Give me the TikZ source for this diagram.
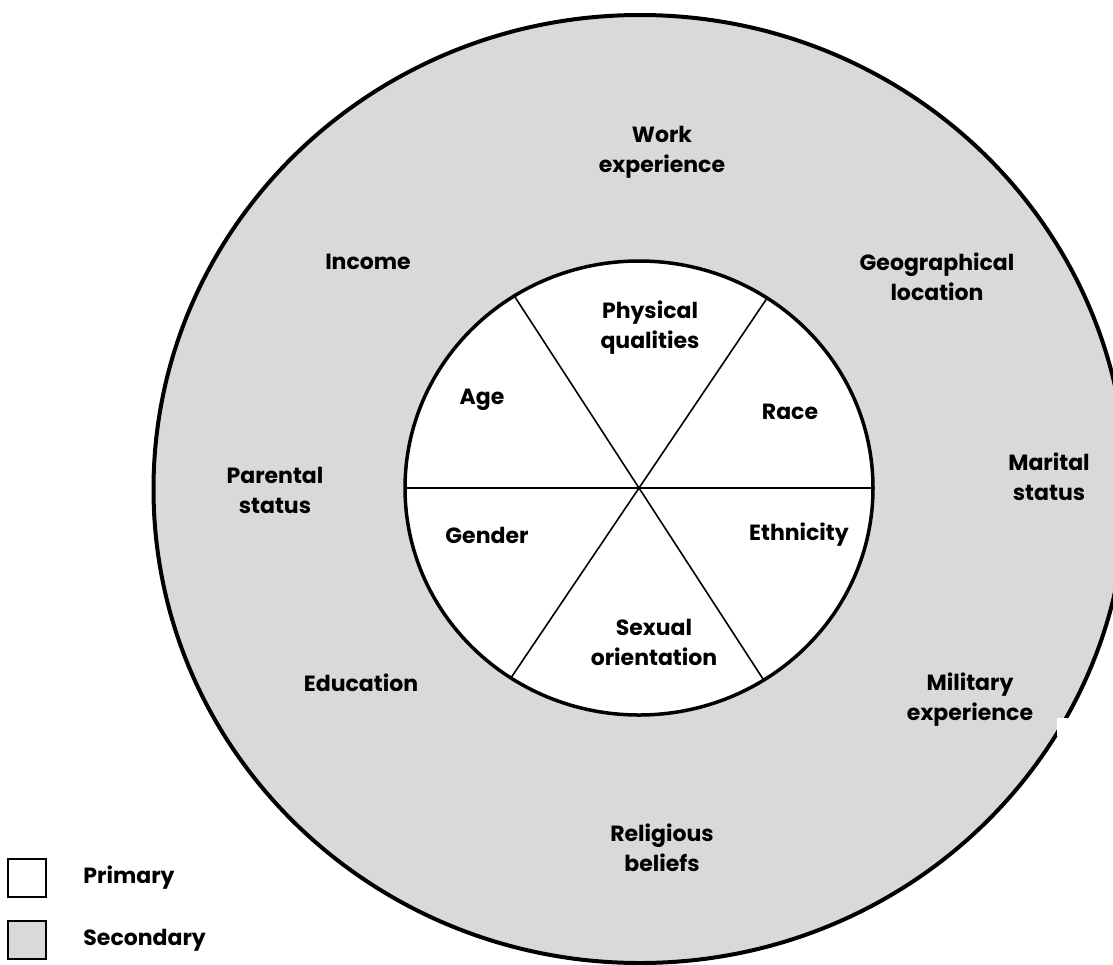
\documentclass[tikz,border=0pt]{standalone}
\usepackage{fontspec}
\setmainfont{Poppins}
\usetikzlibrary{shapes.geometric,positioning}

\definecolor{secondary}{HTML}{D9D9D9}

\tikzset{
  ring/.style={ellipse, draw, outer sep=0pt, inner sep=0pt},
  trait/.style={align=center, font=\fontsize{22}{30}\selectfont\bfseries},
  spoke/.style={line width=1.6pt},
  keybox/.style={draw, line width=1.8pt, minimum width=38pt, minimum height=38pt, inner sep=0pt},
}

\begin{document}
\begin{tikzpicture}[x=1pt, y=-1pt]
  \clip (0,0) rectangle (1113,964);

  % secondary dimensions
  \node[ring, line width=4pt, fill=secondary, minimum width=973pt, minimum height=948pt] (outer) at (640,489) {};
  \fill[white] (1057,718) rectangle (1113,736);

  % primary dimensions
  \node[ring, line width=3.5pt, fill=white, minimum width=468pt, minimum height=454pt] (core) at (639,488) {};
  \draw[spoke] (core.180) -- (core.0);
  \draw[spoke] (core.123) -- (core.-57);
  \draw[spoke] (core.56) -- (core.236);

  \node[trait] (phys) at (650,328) {Physical\\qualities};
  \node[trait] (age) at (482,400) {Age};
  \node[trait] (race) at (790,412) {Race};
  \node[trait] (gender) at (487,535) {Gender};
  \node[trait] (ethn) at (799,535) {Ethnicity};
  \node[trait] (sexor) at (654,642) {Sexual\\orientation};

  \node[trait] (work) at (662,152) {Work\\experience};
  \node[trait] (income) at (368,262) {Income};
  \node[trait] (geo) at (937,277) {Geographical\\location};
  \node[trait] (parent) at (275,490) {Parental\\status};
  \node[trait] (marital) at (1049,477) {Marital\\status};
  \node[trait] (edu) at (361,683) {Education};
  \node[trait] (mil) at (970,700) {Military\\experience};
  \node[trait] (relig) at (662,848) {Religious\\beliefs};

  % legend
  \node[keybox, fill=white] (keyprim) at (27,878) {};
  \node[keybox, fill=secondary] (keysec) at (27,940) {};
  \node[trait, right=33pt of keyprim] {Primary};
  \node[trait, right=33pt of keysec] {Secondary};
\end{tikzpicture}
\end{document}
